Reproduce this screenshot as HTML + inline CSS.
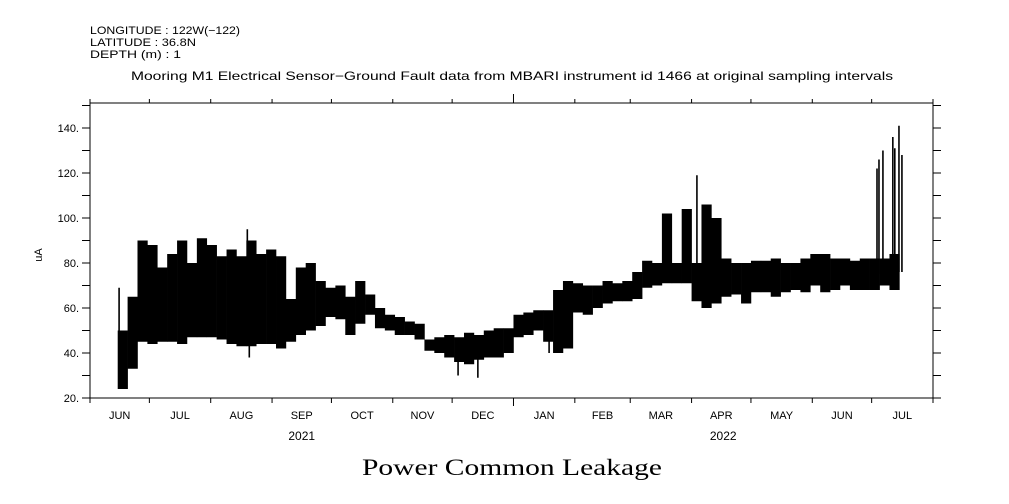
<!DOCTYPE html>
<html><head><meta charset="utf-8"><style>
html,body{margin:0;padding:0;background:#fff;}
svg{display:block;}
text{font-family:"Liberation Sans",sans-serif;fill:#000;}
</style></head><body>
<svg id="chart" width="1009" height="504" viewBox="0 0 1009 504" xmlns="http://www.w3.org/2000/svg">
<g font-size="11">
<text x="90" y="34" textLength="150" lengthAdjust="spacingAndGlyphs">LONGITUDE : 122W(−122)</text>
<text x="90" y="46" textLength="106" lengthAdjust="spacingAndGlyphs">LATITUDE : 36.8N</text>
<text x="90" y="58" textLength="91" lengthAdjust="spacingAndGlyphs">DEPTH (m) : 1</text>
<text x="131" y="80" font-size="12" textLength="762" lengthAdjust="spacingAndGlyphs">Mooring M1 Electrical Sensor−Ground Fault data from MBARI instrument id 1466 at original sampling intervals</text>
</g>
<text x="362" y="475" font-size="23" textLength="300" lengthAdjust="spacingAndGlyphs" style="font-family:'Liberation Serif',serif">Power Common Leakage</text>
<text transform="translate(42,255) rotate(-90)" text-anchor="middle" font-size="11">uA</text>
<g id="marks"></g>
<g id="axes"></g>
</svg>
<script>
// 5-day bins starting at day 14 (days since 2021-06-01)
const binStart = 14;
const binDays = 5;
const lows  = [24,33,45,44,45,45,44,47,47,47,46,44,43,43,44,44,42,45,48,50,52,56,55,48,53,57,51,50,48,48,46,41,40,38,36,35,37,38,38,40,47,48,50,45,40,42,58,57,60,62,63,63,64,69,70,71,71,71,63,60,62,65,66,62,67,67,65,67,68,67,70,67,68,70,68,68,68,70,68];
const highs = [50,65,90,88,78,84,90,80,91,88,83,86,83,90,84,86,83,64,78,80,72,69,70,65,72,66,60,57,56,54,53,46,47,48,47,49,48,50,51,51,57,58,59,59,68,72,71,70,70,72,71,72,76,81,80,102,80,104,80,106,100,82,80,80,81,81,82,80,80,82,84,84,82,82,81,82,82,82,84];
const spikeDays = [14.7,79.5,306.7,397.7,398.7,400.7,405.7,406.7,408.8,410.3,80.5,186,196,232];
const spikeVals = [69,95,119,122,126,130,136,131,141,128,38,30,29,40];
const monthNames = ["JUN","JUL","AUG","SEP","OCT","NOV","DEC","JAN","FEB","MAR","APR","MAY","JUN","JUL"];
const monthStarts = [0,30,61,92,122,153,183,214,245,273,304,334,365,395,426];
const yTicks = [20,40,60,80,100,120,140];
const yearLabels = ["2021","2022"];
const yearDays = [107,320];

const NS="http://www.w3.org/2000/svg";
const X0=90,X1=933,Y0=398,Y1=103,DMAX=426;
const xs=d=>X0+(d/DMAX)*(X1-X0);
const ys=v=>398-(v-20)*2.25;
function mk(tag,attrs,parent){const e=document.createElementNS(NS,tag);for(const k in attrs)e.setAttribute(k,attrs[k]);parent.appendChild(e);return e;}
const marks=document.getElementById('marks'), axes=document.getElementById('axes');

lows.forEach((lo,i)=>{
  const d=binStart+i*binDays;
  const r=mk('rect',{x:xs(d),y:ys(highs[i]),width:xs(d+binDays)-xs(d)+0.3,height:ys(lo)-ys(highs[i]),fill:'#000'},marks);
  
  
});
spikeDays.forEach((d,i)=>{
  const b=Math.min(lows.length-1,Math.max(0,Math.floor((d-binStart)/binDays)));
  const base=(lows[b]+highs[b])/2;
  const l=mk('line',{x1:xs(d),x2:xs(d),y1:ys(base),y2:ys(spikeVals[i]),stroke:'#000','stroke-width':1.6},marks);
  
  
});

const fr=mk('rect',{x:X0,y:Y1,width:X1-X0,height:Y0-Y1,fill:'none',stroke:'#000','stroke-width':1},axes);


for(let v=20;v<=150;v+=10){
  const y=ys(v);
  mk('line',{x1:82,x2:X0,y1:y,y2:y,stroke:'#000'},axes);
  mk('line',{x1:X1,x2:941,y1:y,y2:y,stroke:'#000'},axes);
}
yTicks.forEach(v=>{
  const t=mk('text',{x:79,y:ys(v)+4,'text-anchor':'end','font-size':11},axes);
  t.textContent=v+'.';
  
  
});
monthStarts.forEach((d,i)=>{
  const x=xs(d), big=(d===214);
  mk('line',{x1:x,x2:x,y1:Y0,y2:Y0+(big?8:5),stroke:'#000'},axes);
  mk('line',{x1:x,x2:x,y1:Y1,y2:Y1-(big?9:4),stroke:'#000'},axes);
});
monthNames.forEach((m,i)=>{
  const t=mk('text',{x:(xs(monthStarts[i])+xs(monthStarts[i+1]))/2,y:419,'text-anchor':'middle','font-size':11},axes);
  t.textContent=m;
  
  
});
yearLabels.forEach((yl,i)=>{
  const t=mk('text',{x:xs(yearDays[i]),y:440,'text-anchor':'middle','font-size':12},axes);
  t.textContent=yl;
  
  
});
</script>
</body></html>
